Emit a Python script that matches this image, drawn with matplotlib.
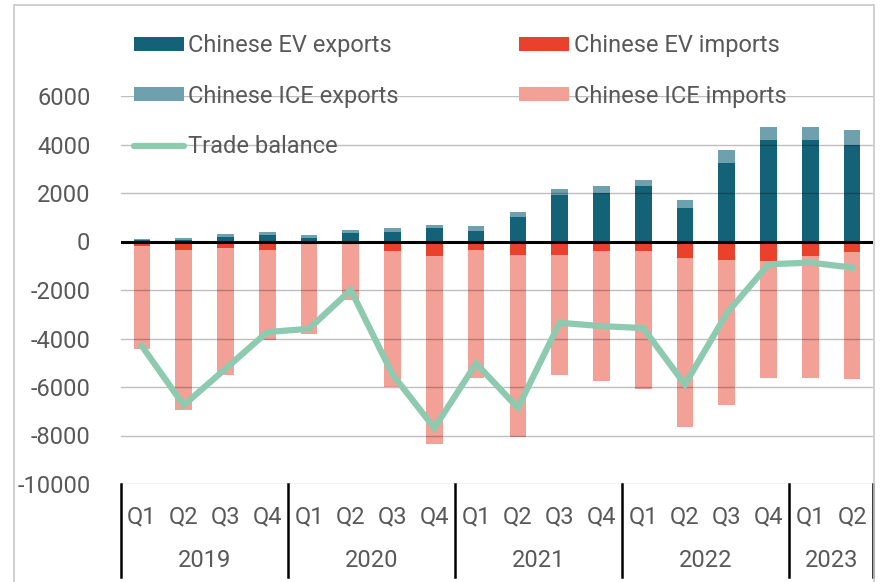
import matplotlib
matplotlib.use("Agg")
import matplotlib.pyplot as plt
from matplotlib.lines import Line2D
from matplotlib.patches import Rectangle
import matplotlib.transforms as mtransforms

plt.rcParams['font.family'] = ['Roboto', 'DejaVu Sans']

quarters = ["Q1", "Q2", "Q3", "Q4", "Q1", "Q2", "Q3", "Q4", "Q1", "Q2", "Q3", "Q4",
            "Q1", "Q2", "Q3", "Q4", "Q1", "Q2"]
years = ["2019", "2020", "2021", "2022", "2023"]
quarters_per_year = [4, 4, 4, 4, 2]

ev_exports = [60, 70, 170, 270, 150, 340, 400, 570, 440, 1015, 1930, 2000, 2300, 1390, 3240, 4200, 4190, 3980]
ice_exports = [30, 80, 130, 110, 100, 120, 140, 120, 180, 210, 230, 285, 235, 330, 540, 510, 550, 600]
ev_imports = [-180, -345, -275, -345, -40, -70, -390, -610, -360, -565, -565, -400, -400, -675, -775, -815, -595, -440]
ice_imports = [-4270, -6615, -5250, -3735, -3790, -2355, -5620, -7725, -5260, -7495, -4945, -5345, -5690, -6955, -5975, -4820, -5015, -5210]
trade_balance = [-4310, -6750, -5250, -3735, -3600, -2000, -5485, -7690, -5030, -6860, -3350, -3490, -3570, -5900, -2960, -940, -870, -1075]

c_ev_exp = "#136278"
c_ice_exp = "#6fa0ae"
c_ev_imp = "#e9412c"
c_ice_imp = "#f3a196"
c_line = "#8ecab0"
c_text = "#595959"
fs = 17

fig = plt.figure(figsize=(8.8, 5.82), dpi=100)
W, H = 880, 582
ax = fig.add_axes([121 / W, (H - 484) / H, (873 - 121) / W, (484 - 96) / H])

x = list(range(len(quarters)))
w = 0.4
b1 = ax.bar(x, ev_exports, w, color=c_ev_exp, zorder=2)
b2 = ax.bar(x, ice_exports, w, bottom=ev_exports, color=c_ice_exp, zorder=2)
b3 = ax.bar(x, ev_imports, w, color=c_ev_imp, zorder=2)
b4 = ax.bar(x, ice_imports, w, bottom=ev_imports, color=c_ice_imp, zorder=2)
ln, = ax.plot(x, trade_balance, color=c_line, lw=4.5, zorder=4, solid_joinstyle='miter')

ax.set_xlim(-0.5, len(quarters) - 0.5)
ax.set_ylim(-10000, 6000)
yt = list(range(-10000, 6001, 2000))
ax.set_yticks(yt)
ax.set_yticklabels([str(v) for v in yt], fontsize=fs, color=c_text)
ax.tick_params(axis='y', length=0, pad=22)
ax.set_xticks([])
for s in ax.spines.values():
    s.set_visible(False)

# gridlines drawn over the bars, light enough to only tint them
for v in yt:
    if v != 0:
        ax.axhline(v, color="black", alpha=0.25, lw=1, zorder=3)
ax.axhline(0, color="black", lw=2.2, zorder=5)

# two-level category axis
trans = mtransforms.blended_transform_factory(ax.transData, ax.transAxes)
for i, q in enumerate(quarters):
    ax.text(i, -0.085, q, transform=trans, ha="center", va="center",
            fontsize=fs, color=c_text)
start = -0.5
for yr, n in zip(years, quarters_per_year):
    ax.text(start + n / 2, -0.196, yr, transform=trans, ha="center", va="center",
            fontsize=fs, color=c_text)
    start += n
seps = [-0.5]
for n in quarters_per_year:
    seps.append(seps[-1] + n)
for s in seps:
    ax.add_line(Line2D([s, s], [0, -0.24], transform=trans, color="black",
                       lw=1.8, clip_on=False))

# outer chart border
fig.patches.append(Rectangle((14 / W, -0.02), (874 - 14) / W, (H - 5) / H + 0.02,
                             transform=fig.transFigure, fill=False,
                             edgecolor="#c8c8c8", lw=1.2))

handles = [b1, b2, ln, b3, b4]
labels = ["Chinese EV exports", "Chinese ICE exports", "Trade balance",
          "Chinese EV imports", "Chinese ICE imports"]
leg = fig.legend(handles, labels, ncol=2, loc="upper left",
                 bbox_to_anchor=(134 / W, (H - 34) / H), frameon=False,
                 fontsize=fs, labelcolor=c_text, handlelength=2.1,
                 handleheight=0.55, handletextpad=0.2, columnspacing=5.1,
                 labelspacing=1.17, borderpad=0, borderaxespad=0)
for t in leg.get_lines():
    t.set_solid_capstyle("round")

fig.savefig("out.png", dpi=100)
